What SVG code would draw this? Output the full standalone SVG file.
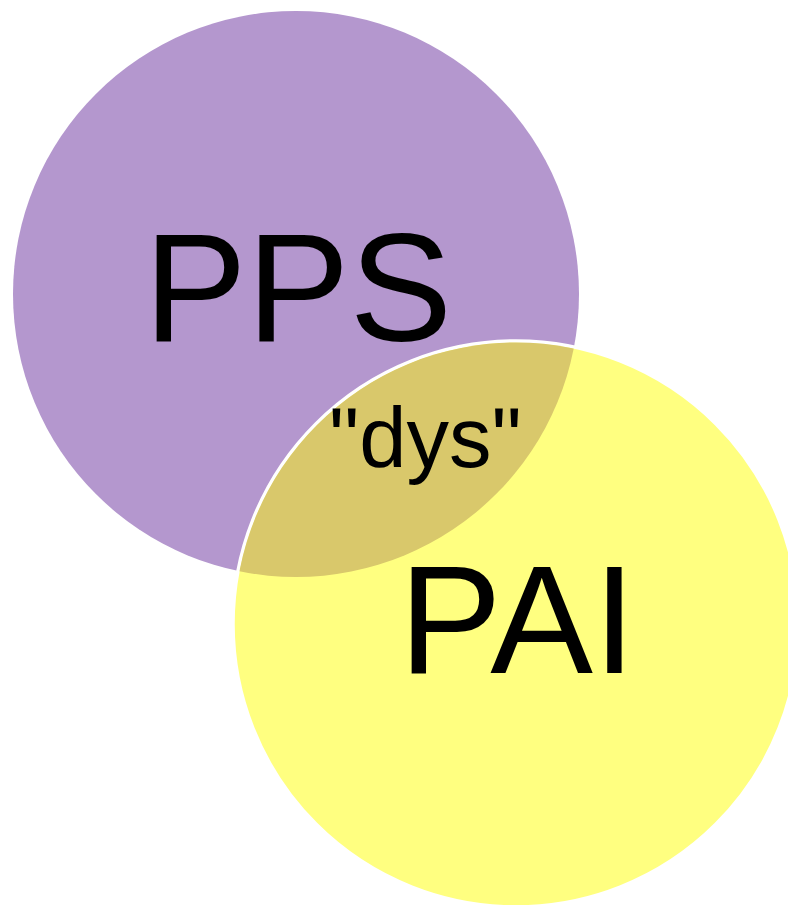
<svg xmlns="http://www.w3.org/2000/svg" width="788" height="905" viewBox="0 0 788 905">
  <style>
    .lbl { font-family: "Liberation Sans", Arial, sans-serif; fill: #000000; }
    .big { font-size: 154px; }
    .small { font-size: 85px; }
  </style>
  <defs>
    <clipPath id="yellowClip">
      <circle cx="516" cy="624" r="281.5"/>
    </clipPath>
  </defs>
  <rect x="0" y="0" width="788" height="905" fill="#ffffff"/>
  <g id="node-pps">
    <circle cx="296" cy="294" r="283" fill="#b497ce"/>
  </g>
  <g id="node-pai">
    <circle cx="516" cy="624" r="283" fill="#ffff80" stroke="#ffffff" stroke-width="3.5"/>
  </g>
  <g id="node-dys">
    <circle cx="296" cy="294" r="283" fill="#d9c86b" clip-path="url(#yellowClip)"/>
  </g>
  <g id="connectors"/>
  <g id="labels">
    <text class="lbl big" x="144" y="341">PPS</text>
    <text class="lbl big" x="399" y="673">PAI</text>
    <text class="lbl small" x="329" y="467">"dys"</text>
  </g>
</svg>
